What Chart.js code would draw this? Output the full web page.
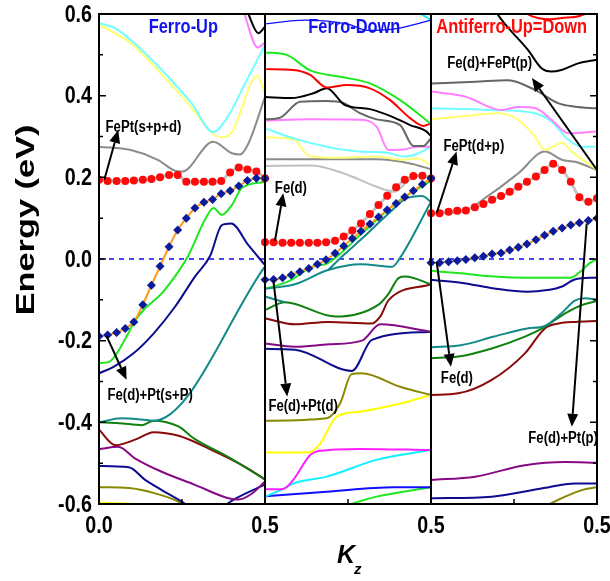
<!DOCTYPE html>
<html>
<head>
<meta charset="utf-8">
<script src="https://cdn.jsdelivr.net/npm/chart.js@4.4.0/dist/chart.umd.min.js"></script>
<style>
  html, body { margin: 0; padding: 0; background: #fff; }
  canvas { display: block; }
</style>
</head>
<body>
<canvas id="bands" width="610" height="581"></canvas>
<script>
// k-path of each panel runs 0 .. 0.5, panels are laid side by side
const PANEL_W = 0.5;
const yTicks = [-0.6, -0.4, -0.2, 0.0, 0.2, 0.4, 0.6];
const xTickPos = [0, 0.5, 1.0, 1.5];
const xTickLabels = ["0.0", "0.5", "0.5", "0.5"];
const panelTitles = ["Ferro-Up", "Ferro-Down", "Antiferro-Up=Down"];

// k points of the marked bands (dots / diamonds)
const kMark = [0, 0.026, 0.053, 0.079, 0.105, 0.132, 0.158, 0.184, 0.211, 0.237,
  0.263, 0.289, 0.316, 0.342, 0.368, 0.395, 0.421, 0.447, 0.474, 0.5];

const upDots = [0.194, 0.191, 0.191, 0.191, 0.192, 0.194, 0.196, 0.2, 0.206, 0.206,
  0.189, 0.189, 0.189, 0.189, 0.191, 0.212, 0.224, 0.219, 0.214, 0.198];
const upDiamonds = [-0.189, -0.186, -0.18, -0.17, -0.154, -0.112, -0.064, -0.018, 0.03, 0.071,
  0.1, 0.125, 0.139, 0.146, 0.16, 0.167, 0.179, 0.192, 0.198, 0.197];
const downDots = [0.041, 0.041, 0.04, 0.04, 0.04, 0.04, 0.04, 0.041, 0.045, 0.055,
  0.07, 0.087, 0.11, 0.132, 0.155, 0.176, 0.194, 0.203, 0.204, 0.197];
const downDiamonds = [-0.051, -0.05, -0.046, -0.039, -0.031, -0.023, -0.013, -0.002, 0.014, 0.032,
  0.05, 0.068, 0.086, 0.103, 0.12, 0.136, 0.152, 0.167, 0.183, 0.198];
const afmDots = [0.112, 0.112, 0.116, 0.118, 0.119, 0.127, 0.135, 0.145, 0.154, 0.165,
  0.177, 0.189, 0.202, 0.218, 0.233, 0.218, 0.189, 0.151, 0.14, 0.149];
const afmDiamonds = [-0.009, -0.009, -0.007, -0.004, -0.001, 0.003, 0.007, 0.012, 0.015, 0.022,
  0.029, 0.037, 0.047, 0.058, 0.068, 0.076, 0.083, 0.089, 0.094, 0.1];

// ---- Ferro-Up bands [k, E] ----
const upCyan = [[0, 0.578], [0.05, 0.565], [0.108, 0.527], [0.189, 0.463], [0.279, 0.381], [0.344, 0.311], [0.389, 0.35], [0.44, 0.43], [0.5, 0.524]];
const upYellow = [[0, 0.574], [0.098, 0.527], [0.189, 0.452], [0.279, 0.37], [0.344, 0.306], [0.37, 0.298], [0.4, 0.31], [0.477, 0.448], [0.5, 0.402]];
const upPink = [[0.43, 0.62], [0.438, 0.6], [0.478, 0.518], [0.5, 0.53]];
const upBlack = [[0.44, 0.62], [0.45, 0.6], [0.48, 0.553], [0.5, 0.569]];
const upGrey = [[0, 0.275], [0.096, 0.267], [0.177, 0.243], [0.229, 0.216], [0.25, 0.214], [0.344, 0.287], [0.4, 0.259], [0.425, 0.256], [0.45, 0.283], [0.5, 0.397]];
const upGreen = [[0, -0.255], [0.03, -0.252], [0.083, -0.19], [0.106, -0.154], [0.139, -0.121], [0.189, -0.084], [0.239, -0.031], [0.27, 0.01], [0.319, 0.096], [0.345, 0.125], [0.37, 0.108], [0.4, 0.132], [0.43, 0.174], [0.5, 0.189]];
const upNavy = [[0, -0.28], [0.044, -0.264], [0.104, -0.231], [0.165, -0.182], [0.229, -0.117], [0.289, -0.043], [0.335, 0.008], [0.37, 0.083], [0.398, 0.087], [0.45, 0.034], [0.5, -0.015]];
const upTeal = [[0, -0.4], [0.068, -0.39], [0.128, -0.393], [0.164, -0.396], [0.5, -0.018]];
const upDkGreen = [[0, -0.4], [0.06, -0.402], [0.13, -0.407], [0.164, -0.396], [0.239, -0.41], [0.289, -0.441], [0.39, -0.485], [0.5, -0.54]];
const upMaroon = [[0, -0.418], [0.05, -0.456], [0.076, -0.452], [0.116, -0.44], [0.164, -0.424], [0.24, -0.433], [0.34, -0.468], [0.44, -0.509], [0.5, -0.54]];
const upPurple = [[0, -0.466], [0.058, -0.46], [0.108, -0.488], [0.189, -0.521], [0.289, -0.553], [0.39, -0.586], [0.42, -0.589], [0.46, -0.575], [0.5, -0.545]];
const upNavyLow = [[0, -0.507], [0.09, -0.51], [0.139, -0.541], [0.189, -0.566], [0.26, -0.6], [0.3, -0.625], [0.35, -0.625], [0.385, -0.6], [0.5, -0.552]];
const upOlive = [[0, -0.559], [0.09, -0.561], [0.169, -0.574], [0.239, -0.594], [0.28, -0.615]];
const upYellowLow = [[0, -0.597], [0.12, -0.6], [0.2, -0.615]];

// ---- Ferro-Down bands ----
const downBlueTop = [[0, 0.576], [0.12, 0.585], [0.25, 0.575], [0.31, 0.56], [0.4, 0.565], [0.5, 0.585]];
const downCyanTop = [[0.44, 0.61], [0.47, 0.6], [0.5, 0.585]];
const downGreen = [[0, 0.506], [0.065, 0.5], [0.136, 0.462], [0.236, 0.445], [0.316, 0.43], [0.407, 0.389], [0.5, 0.331]];
const downRed = [[0, 0.465], [0.085, 0.463], [0.136, 0.451], [0.186, 0.42], [0.246, 0.426], [0.316, 0.418], [0.377, 0.389], [0.437, 0.345], [0.477, 0.326], [0.5, 0.332]];
const downBlack = [[0, 0.397], [0.08, 0.394], [0.146, 0.406], [0.186, 0.418], [0.241, 0.377], [0.316, 0.367], [0.387, 0.347], [0.437, 0.328], [0.487, 0.312], [0.5, 0.3]];
const downDkGrey = [[0, 0.342], [0.045, 0.346], [0.106, 0.385], [0.186, 0.387], [0.236, 0.382], [0.286, 0.357], [0.336, 0.342], [0.407, 0.328], [0.447, 0.277], [0.477, 0.277], [0.5, 0.296]];
const downPink = [[0, 0.339], [0.136, 0.342], [0.286, 0.341], [0.336, 0.324], [0.372, 0.267], [0.417, 0.268], [0.457, 0.275], [0.5, 0.275]];
const downCyan = [[0, 0.32], [0.085, 0.296], [0.186, 0.275], [0.286, 0.263], [0.367, 0.26], [0.422, 0.251], [0.457, 0.257], [0.5, 0.275]];
const downYellow = [[0, 0.298], [0.085, 0.293], [0.136, 0.251], [0.236, 0.248], [0.336, 0.251], [0.417, 0.243], [0.457, 0.247], [0.5, 0.23]];
const downGrey = [[0, 0.244], [0.186, 0.244], [0.336, 0.244], [0.437, 0.234], [0.5, 0.22]];
const downLtGrey = [[0, 0.228], [0.14, 0.229], [0.236, 0.21], [0.336, 0.177], [0.39, 0.165], [0.43, 0.19], [0.47, 0.205], [0.5, 0.2]];
const downTealA = [[0, -0.073], [0.09, -0.062], [0.19, -0.027], [0.29, -0.013], [0.383, -0.019], [0.403, -0.002], [0.5, 0.14]];
const downTealB = [[0.19, -0.027], [0.24, 0.012], [0.292, 0.05], [0.373, 0.112], [0.423, 0.147], [0.473, 0.154], [0.5, 0.14]];
const downGreen2 = [[0, -0.073], [0.07, -0.055], [0.142, -0.019], [0.19, -0.01], [0.292, 0.063], [0.393, 0.136], [0.5, 0.192]];
const downTeal2 = [[0, -0.092], [0.06, -0.106]];
const downDkGreen = [[0, -0.125], [0.06, -0.106], [0.212, -0.141], [0.343, -0.111], [0.373, -0.084], [0.403, -0.046], [0.423, -0.043], [0.5, -0.062]];
const downMaroon = [[0, -0.145], [0.09, -0.16], [0.19, -0.154], [0.32, -0.158], [0.347, -0.141], [0.373, -0.1], [0.5, -0.062]];
const downPurple = [[0, -0.207], [0.09, -0.215], [0.192, -0.209], [0.292, -0.2], [0.347, -0.16], [0.5, -0.178]];
const downNavy = [[0, -0.22], [0.09, -0.222], [0.262, -0.274], [0.322, -0.198], [0.5, -0.178]];
const downOlive = [[0, -0.396], [0.186, -0.39], [0.226, -0.354], [0.261, -0.282], [0.291, -0.28], [0.407, -0.313], [0.5, -0.333]];
const downYellowLow = [[0, -0.474], [0.136, -0.473], [0.166, -0.452], [0.216, -0.386], [0.286, -0.374], [0.407, -0.354], [0.5, -0.333]];
const downMagenta = [[0, -0.564], [0.055, -0.563], [0.085, -0.541], [0.136, -0.48], [0.161, -0.47], [0.286, -0.465], [0.5, -0.468]];
const downCyanLow = [[0, -0.582], [0.05, -0.565], [0.085, -0.55], [0.186, -0.533], [0.336, -0.492], [0.5, -0.468]];
const downBlueLow = [[0, -0.581], [0.186, -0.57], [0.387, -0.559], [0.5, -0.559]];
const downGreenLow = [[0.22, -0.61], [0.336, -0.582], [0.5, -0.559]];

// ---- Antiferro bands ----
const afmRed = [[0.27, 0.615], [0.29, 0.6], [0.322, 0.59], [0.36, 0.587], [0.393, 0.59], [0.463, 0.6], [0.48, 0.615]];
const afmBlack = [[0.19, 0.615], [0.2, 0.6], [0.292, 0.512], [0.333, 0.467], [0.362, 0.459], [0.393, 0.463], [0.443, 0.479], [0.5, 0.488]];
const afmDkGrey = [[0, 0.43], [0.133, 0.434], [0.233, 0.438], [0.313, 0.414], [0.384, 0.381], [0.434, 0.373], [0.5, 0.369]];
const afmPink = [[0, 0.41], [0.102, 0.398], [0.213, 0.365], [0.263, 0.372], [0.313, 0.37], [0.363, 0.341], [0.414, 0.308], [0.5, 0.312]];
const afmCyan = [[0, 0.369], [0.183, 0.365], [0.313, 0.357], [0.363, 0.336], [0.414, 0.292], [0.454, 0.275], [0.5, 0.275]];
const afmYellow = [[0, 0.342], [0.102, 0.35], [0.203, 0.357], [0.263, 0.341], [0.313, 0.3], [0.343, 0.267], [0.394, 0.285], [0.424, 0.263], [0.5, 0.218]];
const afmGrey = [[0, 0.113], [0.082, 0.114], [0.183, 0.161], [0.263, 0.21], [0.343, 0.263], [0.394, 0.243], [0.434, 0.238], [0.5, 0.218]];
const afmGreen = [[0, -0.029], [0.09, -0.035], [0.19, -0.043], [0.29, -0.046], [0.42, -0.046], [0.45, -0.031], [0.48, -0.009], [0.5, -0.001]];
const afmNavy = [[0, -0.051], [0.09, -0.058], [0.19, -0.072], [0.29, -0.08], [0.35, -0.076], [0.393, -0.068], [0.433, -0.05], [0.5, -0.045]];
const afmTeal = [[0, -0.216], [0.09, -0.211], [0.19, -0.19], [0.29, -0.17], [0.343, -0.164], [0.393, -0.133], [0.433, -0.102], [0.463, -0.096], [0.5, -0.099]];
const afmDkGreen = [[0, -0.243], [0.082, -0.239], [0.183, -0.219], [0.283, -0.19], [0.343, -0.166], [0.404, -0.133], [0.454, -0.113], [0.5, -0.103]];
const afmMaroon = [[0, -0.333], [0.082, -0.329], [0.183, -0.296], [0.283, -0.231], [0.343, -0.17], [0.384, -0.158], [0.434, -0.154], [0.5, -0.152]];
const afmPurple = [[0, -0.541], [0.133, -0.533], [0.283, -0.505], [0.404, -0.497], [0.5, -0.499]];
const afmNavyLow = [[0, -0.586], [0.183, -0.582], [0.333, -0.562], [0.434, -0.55], [0.5, -0.55]];
const afmOlive = [[0.32, -0.615], [0.404, -0.582], [0.454, -0.566], [0.5, -0.559]];

// orbital-character labels: text, panel, k, E
const noteText = ["FePt(s+p+d)", "Fe(d)+Pt(s+P)", "Fe(d)", "Fe(d)+Pt(d)", "Fe(d)+FePt(p)", "FePt(d+p)", "Fe(d)", "Fe(d)+Pt(p)"];
const notePanel = [0, 0, 1, 1, 2, 2, 2, 2];
const noteK = [0.134, 0.154, 0.078, 0.115, 0.177, 0.129, 0.078, 0.398];
const noteE = [0.321, -0.335, 0.173, -0.362, 0.478, 0.275, -0.292, -0.439];
// arrows: panel, k0, E0 (tail) -> k1, E1 (head)
const arrows = [
  [0, 0.016, 0.194, 0.058, 0.316],
  [0, 0.023, -0.189, 0.083, -0.296],
  [1, 0.03, 0.045, 0.055, 0.161],
  [1, 0.025, -0.051, 0.067, -0.337],
  [2, 0.5, 0.218, 0.304, 0.443],
  [2, 0.017, 0.112, 0.077, 0.263],
  [2, 0.017, -0.007, 0.06, -0.264],
  [2, 0.469, 0.087, 0.424, -0.411]
];

const C = {
  cyan: "#72ffff", yellow: "#ffff70", pink: "#ff80ff", black: "#000000",
  dkgrey: "#666666", grey: "#8c8c8c", ltgrey: "#c0c0c0", green: "#1ee81e",
  navy: "#0c0c90", teal: "#138a8a", dkgreen: "#108010", maroon: "#8a0a0a",
  purple: "#860a86", olive: "#888800", red: "#ff0000", blue: "#1010ff",
  magenta: "#ff20ff", brcyan: "#10f0ff", bryellow: "#ffff00"
};

const bands = [
  [0, upCyan, C.cyan], [0, upYellow, C.yellow], [0, upPink, C.pink], [0, upBlack, C.black],
  [0, upGrey, C.grey], [0, upGreen, C.green], [0, upNavy, C.navy], [0, upTeal, C.teal],
  [0, upDkGreen, C.dkgreen], [0, upMaroon, C.maroon], [0, upPurple, C.purple],
  [0, upNavyLow, C.navy], [0, upOlive, C.olive], [0, upYellowLow, C.bryellow],
  [1, downBlueTop, C.blue, 1.2], [1, downCyanTop, C.brcyan], [1, downGreen, C.green], [1, downRed, C.red],
  [1, downBlack, C.black], [1, downDkGrey, C.dkgrey], [1, downPink, C.pink], [1, downCyan, C.cyan],
  [1, downYellow, C.yellow], [1, downGrey, C.grey], [1, downLtGrey, C.ltgrey],
  [1, downTealA, C.teal], [1, downTealB, C.teal], [1, downTeal2, C.teal], [1, downGreen2, C.green],
  [1, downDkGreen, C.dkgreen], [1, downMaroon, C.maroon], [1, downPurple, C.purple], [1, downNavy, C.navy],
  [1, downOlive, C.olive], [1, downYellowLow, C.bryellow], [1, downMagenta, C.magenta],
  [1, downCyanLow, C.brcyan], [1, downBlueLow, C.blue], [1, downGreenLow, C.green],
  [2, afmRed, C.red], [2, afmBlack, C.black], [2, afmDkGrey, C.dkgrey], [2, afmPink, C.pink],
  [2, afmCyan, C.cyan], [2, afmYellow, C.yellow], [2, afmGrey, C.grey], [2, afmGreen, C.green],
  [2, afmNavy, C.navy], [2, afmTeal, C.teal], [2, afmDkGreen, C.dkgreen], [2, afmMaroon, C.maroon],
  [2, afmPurple, C.purple], [2, afmNavyLow, C.navy], [2, afmOlive, C.olive]
];

const datasets = [];

// marked bands go first so they land on top
[[0, upDots, upDiamonds], [1, downDots, downDiamonds], [2, afmDots, afmDiamonds]].forEach(([p, dots, dia]) => {
  datasets.push({
    data: kMark.map((k, i) => ({ x: p * PANEL_W + k, y: dia[i] })),
    borderColor: "#ff9a1a", borderWidth: 2, pointStyle: "rectRot", pointRadius: 4.5,
    pointBackgroundColor: "#0a1c9c", pointBorderWidth: 0, tension: 0.3, order: 0
  });
  datasets.push({
    data: kMark.map((k, i) => ({ x: p * PANEL_W + k, y: dots[i] })),
    borderColor: "#c4c4c4", borderWidth: 3, pointStyle: "circle", pointRadius: 4,
    pointBackgroundColor: "#ff0a0a", pointBorderWidth: 0, tension: 0.3, order: 1
  });
});

bands.forEach(([p, pts, color, w]) => {
  datasets.push({
    data: pts.map(([k, e]) => ({ x: p * PANEL_W + k, y: e })),
    borderColor: color, borderWidth: w || 2, pointRadius: 0,
    cubicInterpolationMode: "monotone", order: 2
  });
});

function squeezed(ctx, text, x, y, font, color, sx, align, baseline) {
  ctx.save();
  ctx.font = font;
  ctx.fillStyle = color;
  ctx.textAlign = align || "center";
  ctx.textBaseline = baseline || "middle";
  ctx.translate(x, y);
  ctx.scale(sx, 1);
  ctx.fillText(text, 0, 0);
  ctx.restore();
}

const SANS = '"Liberation Sans", Arial, Helvetica, sans-serif';

const framePlugin = {
  id: "frame",
  beforeDatasetsDraw(chart) {
    const { ctx, chartArea: a, scales: { y } } = chart;
    // Fermi level
    ctx.save();
    ctx.strokeStyle = "#1a1aff";
    ctx.lineWidth = 1.6;
    ctx.setLineDash([5, 5]);
    ctx.beginPath();
    ctx.moveTo(a.left, y.getPixelForValue(0));
    ctx.lineTo(a.right, y.getPixelForValue(0));
    ctx.stroke();
    ctx.restore();
  },
  afterDatasetsDraw(chart) {
    const { ctx, chartArea: a, scales: { x, y } } = chart;
    ctx.save();
    ctx.strokeStyle = "#000";
    ctx.lineWidth = 2;
    ctx.strokeRect(a.left, a.top, a.right - a.left, a.bottom - a.top);
    [0.5, 1.0].forEach((v) => {
      const px = x.getPixelForValue(v);
      ctx.beginPath();
      ctx.moveTo(px, a.top);
      ctx.lineTo(px, a.bottom);
      ctx.stroke();
    });
    // inward ticks on the energy axes, every 0.1
    ctx.lineWidth = 1.5;
    for (let i = -6; i <= 6; i++) {
      const py = y.getPixelForValue(i / 10);
      const len = i % 2 === 0 ? 7 : 4;
      ctx.beginPath();
      ctx.moveTo(a.left, py); ctx.lineTo(a.left + len, py);
      ctx.moveTo(a.right, py); ctx.lineTo(a.right - len, py);
      ctx.stroke();
    }
    // mid-panel ticks on the k axis
    [0.25, 0.75, 1.25].forEach((v) => {
      const px = x.getPixelForValue(v);
      ctx.beginPath();
      ctx.moveTo(px, a.bottom); ctx.lineTo(px, a.bottom - 5);
      ctx.stroke();
    });
    ctx.restore();

    // tick labels
    yTicks.forEach((v) => {
      squeezed(ctx, v.toFixed(1), a.left - 7, y.getPixelForValue(v) + 1, "bold 24px " + SANS, "#000", 0.82, "right");
    });
    xTickPos.forEach((v, i) => {
      squeezed(ctx, xTickLabels[i], x.getPixelForValue(v), a.bottom + 22, "bold 24px " + SANS, "#000", 0.82, "center");
    });

    // axis titles
    ctx.save();
    ctx.translate(27, (a.top + a.bottom) / 2 - 39);
    ctx.rotate(-Math.PI / 2);
    ctx.scale(1.32, 1);
    ctx.font = "bold 26px " + SANS;
    ctx.fillStyle = "#000";
    ctx.textAlign = "center";
    ctx.textBaseline = "middle";
    ctx.fillText("Energy (eV)", 0, 0);
    ctx.restore();
    ctx.save();
    ctx.fillStyle = "#000";
    ctx.font = "italic bold 25px " + SANS;
    ctx.textBaseline = "alphabetic";
    ctx.fillText("K", 337, 563);
    ctx.font = "italic bold 15px " + SANS;
    ctx.fillText("z", 354, 574);
    ctx.restore();

    // panel titles
    const titleK = [0.254, 0.269, 0.243];
    const titleColor = ["#1212ee", "#1212ee", "#ff0a0a"];
    panelTitles.forEach((t, i) => {
      squeezed(ctx, t, x.getPixelForValue(i * PANEL_W + titleK[i]), y.getPixelForValue(0.566),
        "bold 20px " + SANS, titleColor[i], 0.82, "center");
    });

    // labels
    noteText.forEach((t, i) => {
      squeezed(ctx, t, x.getPixelForValue(notePanel[i] * PANEL_W + noteK[i]), y.getPixelForValue(noteE[i]),
        "bold 16px " + SANS, "#000", 0.82, "center");
    });

    // arrows
    ctx.save();
    ctx.strokeStyle = "#000";
    ctx.fillStyle = "#000";
    ctx.lineWidth = 2;
    arrows.forEach(([p, k0, e0, k1, e1]) => {
      const x0 = x.getPixelForValue(p * PANEL_W + k0), y0 = y.getPixelForValue(e0);
      const x1 = x.getPixelForValue(p * PANEL_W + k1), y1 = y.getPixelForValue(e1);
      const ang = Math.atan2(y1 - y0, x1 - x0);
      const hl = 13, hw = 5.5;
      const bx = x1 - hl * Math.cos(ang), by = y1 - hl * Math.sin(ang);
      ctx.beginPath();
      ctx.moveTo(x0, y0);
      ctx.lineTo(bx, by);
      ctx.stroke();
      ctx.beginPath();
      ctx.moveTo(x1, y1);
      ctx.lineTo(bx + hw * Math.sin(ang), by - hw * Math.cos(ang));
      ctx.lineTo(bx - hw * Math.sin(ang), by + hw * Math.cos(ang));
      ctx.closePath();
      ctx.fill();
    });
    ctx.restore();
  }
};

new Chart(document.getElementById("bands"), {
  type: "line",
  data: { datasets },
  options: {
    responsive: false,
    animation: false,
    parsing: true,
    layout: { padding: { left: 99, right: 13, top: 14, bottom: 77 } },
    scales: {
      x: { type: "linear", min: 0, max: 1.5, display: false },
      y: { type: "linear", min: -0.6, max: 0.6, display: false }
    },
    plugins: { legend: { display: false }, tooltip: { enabled: false } }
  },
  plugins: [framePlugin]
});
</script>
</body>
</html>
